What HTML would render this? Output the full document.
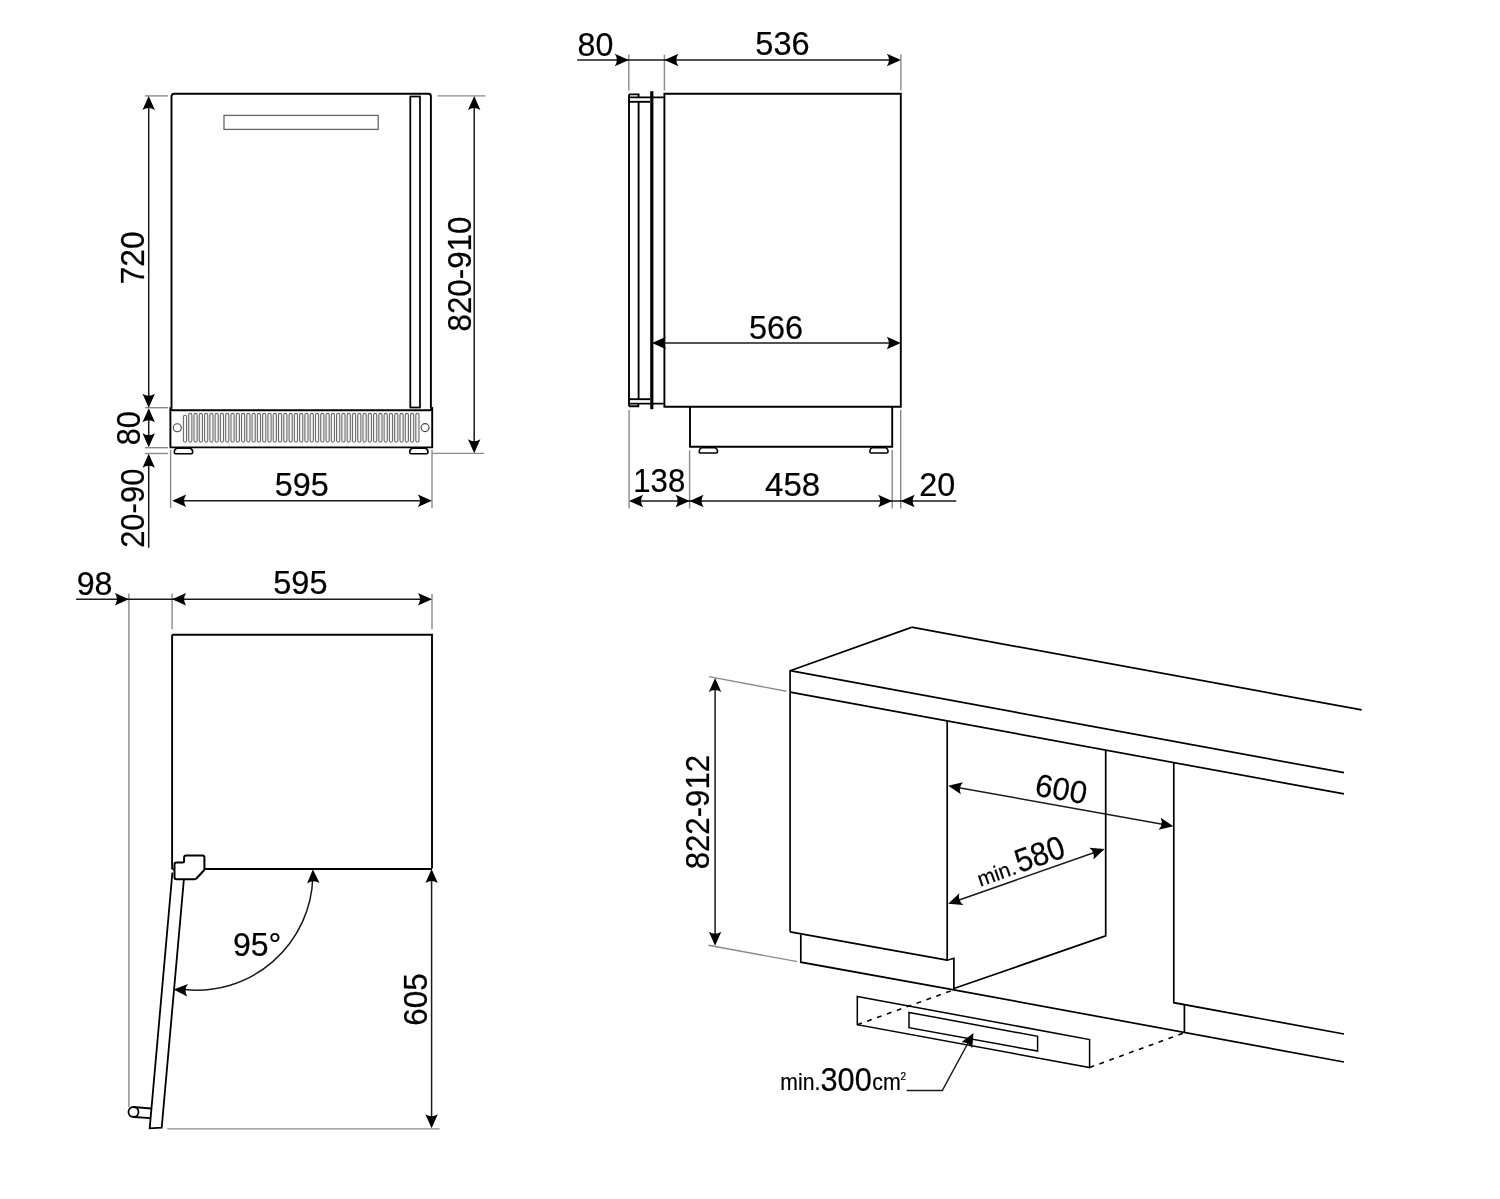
<!DOCTYPE html>
<html><head><meta charset="utf-8"><style>
html,body{margin:0;padding:0;background:#fff;width:1500px;height:1199px;overflow:hidden}
svg{position:absolute;left:0;top:0;display:block;will-change:transform}
text{font-family:"Liberation Sans",sans-serif;fill:#000;stroke:#000;stroke-width:0.22px}
</style></head><body>
<svg width="1500" height="1199" viewBox="0 0 1500 1199">
<path d="M171.5,408.6 V96.2 Q171.7,93.7 174.2,93.7 H428.4 Q430.9,93.7 430.9,96.2 V408.4" stroke="#000" stroke-width="1.9" fill="none"/>
<path d="M170.4,447.4 V408.6 L172.6,410.2 H429.9 L432.2,408.4 V447.4 Z" stroke="#000" stroke-width="1.9" fill="none"/>
<rect x="224" y="115.4" width="154.2" height="14" stroke="#666" stroke-width="1.3" fill="none"/>
<rect x="410.3" y="96.5" width="9.7" height="311" stroke="#000" stroke-width="1.75" fill="none"/>
<circle cx="177.3" cy="427.7" r="4" stroke="#444" stroke-width="1.1" fill="none"/>
<circle cx="425.1" cy="427.6" r="4" stroke="#444" stroke-width="1.1" fill="none"/>
<rect x="183.40" y="415.3" width="3.2" height="26.9" rx="1.6" stroke="#6a6a6a" stroke-width="1.1" fill="#f4f4f4"/>
<rect x="188.68" y="413.4" width="3.2" height="28.8" rx="1.6" stroke="#6a6a6a" stroke-width="1.1" fill="#f4f4f4"/>
<rect x="193.96" y="413.4" width="3.2" height="28.8" rx="1.6" stroke="#6a6a6a" stroke-width="1.1" fill="#f4f4f4"/>
<rect x="199.25" y="413.4" width="3.2" height="28.8" rx="1.6" stroke="#6a6a6a" stroke-width="1.1" fill="#f4f4f4"/>
<rect x="204.53" y="413.4" width="3.2" height="28.8" rx="1.6" stroke="#6a6a6a" stroke-width="1.1" fill="#f4f4f4"/>
<rect x="209.81" y="413.4" width="3.2" height="28.8" rx="1.6" stroke="#6a6a6a" stroke-width="1.1" fill="#f4f4f4"/>
<rect x="215.09" y="413.4" width="3.2" height="28.8" rx="1.6" stroke="#6a6a6a" stroke-width="1.1" fill="#f4f4f4"/>
<rect x="220.37" y="413.4" width="3.2" height="28.8" rx="1.6" stroke="#6a6a6a" stroke-width="1.1" fill="#f4f4f4"/>
<rect x="225.65" y="413.4" width="3.2" height="28.8" rx="1.6" stroke="#6a6a6a" stroke-width="1.1" fill="#f4f4f4"/>
<rect x="230.94" y="413.4" width="3.2" height="28.8" rx="1.6" stroke="#6a6a6a" stroke-width="1.1" fill="#f4f4f4"/>
<rect x="236.22" y="413.4" width="3.2" height="28.8" rx="1.6" stroke="#6a6a6a" stroke-width="1.1" fill="#f4f4f4"/>
<rect x="241.50" y="413.4" width="3.2" height="28.8" rx="1.6" stroke="#6a6a6a" stroke-width="1.1" fill="#f4f4f4"/>
<rect x="246.78" y="413.4" width="3.2" height="28.8" rx="1.6" stroke="#6a6a6a" stroke-width="1.1" fill="#f4f4f4"/>
<rect x="252.06" y="413.4" width="3.2" height="28.8" rx="1.6" stroke="#6a6a6a" stroke-width="1.1" fill="#f4f4f4"/>
<rect x="257.35" y="413.4" width="3.2" height="28.8" rx="1.6" stroke="#6a6a6a" stroke-width="1.1" fill="#f4f4f4"/>
<rect x="262.63" y="413.4" width="3.2" height="28.8" rx="1.6" stroke="#6a6a6a" stroke-width="1.1" fill="#f4f4f4"/>
<rect x="267.91" y="413.4" width="3.2" height="28.8" rx="1.6" stroke="#6a6a6a" stroke-width="1.1" fill="#f4f4f4"/>
<rect x="273.19" y="413.4" width="3.2" height="28.8" rx="1.6" stroke="#6a6a6a" stroke-width="1.1" fill="#f4f4f4"/>
<rect x="278.47" y="413.4" width="3.2" height="28.8" rx="1.6" stroke="#6a6a6a" stroke-width="1.1" fill="#f4f4f4"/>
<rect x="283.75" y="413.4" width="3.2" height="28.8" rx="1.6" stroke="#6a6a6a" stroke-width="1.1" fill="#f4f4f4"/>
<rect x="289.04" y="413.4" width="3.2" height="28.8" rx="1.6" stroke="#6a6a6a" stroke-width="1.1" fill="#f4f4f4"/>
<rect x="294.32" y="413.4" width="3.2" height="28.8" rx="1.6" stroke="#6a6a6a" stroke-width="1.1" fill="#f4f4f4"/>
<rect x="299.60" y="413.4" width="3.2" height="28.8" rx="1.6" stroke="#6a6a6a" stroke-width="1.1" fill="#f4f4f4"/>
<rect x="304.88" y="413.4" width="3.2" height="28.8" rx="1.6" stroke="#6a6a6a" stroke-width="1.1" fill="#f4f4f4"/>
<rect x="310.16" y="413.4" width="3.2" height="28.8" rx="1.6" stroke="#6a6a6a" stroke-width="1.1" fill="#f4f4f4"/>
<rect x="315.45" y="413.4" width="3.2" height="28.8" rx="1.6" stroke="#6a6a6a" stroke-width="1.1" fill="#f4f4f4"/>
<rect x="320.73" y="413.4" width="3.2" height="28.8" rx="1.6" stroke="#6a6a6a" stroke-width="1.1" fill="#f4f4f4"/>
<rect x="326.01" y="413.4" width="3.2" height="28.8" rx="1.6" stroke="#6a6a6a" stroke-width="1.1" fill="#f4f4f4"/>
<rect x="331.29" y="413.4" width="3.2" height="28.8" rx="1.6" stroke="#6a6a6a" stroke-width="1.1" fill="#f4f4f4"/>
<rect x="336.57" y="413.4" width="3.2" height="28.8" rx="1.6" stroke="#6a6a6a" stroke-width="1.1" fill="#f4f4f4"/>
<rect x="341.85" y="413.4" width="3.2" height="28.8" rx="1.6" stroke="#6a6a6a" stroke-width="1.1" fill="#f4f4f4"/>
<rect x="347.14" y="413.4" width="3.2" height="28.8" rx="1.6" stroke="#6a6a6a" stroke-width="1.1" fill="#f4f4f4"/>
<rect x="352.42" y="413.4" width="3.2" height="28.8" rx="1.6" stroke="#6a6a6a" stroke-width="1.1" fill="#f4f4f4"/>
<rect x="357.70" y="413.4" width="3.2" height="28.8" rx="1.6" stroke="#6a6a6a" stroke-width="1.1" fill="#f4f4f4"/>
<rect x="362.98" y="413.4" width="3.2" height="28.8" rx="1.6" stroke="#6a6a6a" stroke-width="1.1" fill="#f4f4f4"/>
<rect x="368.26" y="413.4" width="3.2" height="28.8" rx="1.6" stroke="#6a6a6a" stroke-width="1.1" fill="#f4f4f4"/>
<rect x="373.55" y="413.4" width="3.2" height="28.8" rx="1.6" stroke="#6a6a6a" stroke-width="1.1" fill="#f4f4f4"/>
<rect x="378.83" y="413.4" width="3.2" height="28.8" rx="1.6" stroke="#6a6a6a" stroke-width="1.1" fill="#f4f4f4"/>
<rect x="384.11" y="413.4" width="3.2" height="28.8" rx="1.6" stroke="#6a6a6a" stroke-width="1.1" fill="#f4f4f4"/>
<rect x="389.39" y="413.4" width="3.2" height="28.8" rx="1.6" stroke="#6a6a6a" stroke-width="1.1" fill="#f4f4f4"/>
<rect x="394.67" y="413.4" width="3.2" height="28.8" rx="1.6" stroke="#6a6a6a" stroke-width="1.1" fill="#f4f4f4"/>
<rect x="399.95" y="413.4" width="3.2" height="28.8" rx="1.6" stroke="#6a6a6a" stroke-width="1.1" fill="#f4f4f4"/>
<rect x="405.24" y="413.4" width="3.2" height="28.8" rx="1.6" stroke="#6a6a6a" stroke-width="1.1" fill="#f4f4f4"/>
<rect x="410.52" y="413.4" width="3.2" height="28.8" rx="1.6" stroke="#6a6a6a" stroke-width="1.1" fill="#f4f4f4"/>
<rect x="415.80" y="413.4" width="3.2" height="28.8" rx="1.6" stroke="#6a6a6a" stroke-width="1.1" fill="#f4f4f4"/>
<path d="M176.8,448.3 H190.2 Q192.7,449.5 192.7,452 Q192.7,453.7 191.2,453.7 H175.8 Q174.3,453.7 174.3,452 Q174.3,449.5 176.8,448.3 Z" stroke="#000" stroke-width="1.6" fill="none"/>
<path d="M412.2,448.3 H425.5 Q428,449.5 428,452 Q428,453.7 426.5,453.7 H411.2 Q409.7,453.7 409.7,452 Q409.7,449.5 412.2,448.3 Z" stroke="#000" stroke-width="1.6" fill="none"/>
<line x1="145.00" y1="95.90" x2="168.00" y2="95.90" stroke="#8a8a8a" stroke-width="1.4" fill="none"/>
<line x1="145.00" y1="407.70" x2="168.00" y2="407.70" stroke="#8a8a8a" stroke-width="1.4" fill="none"/>
<line x1="145.00" y1="447.70" x2="168.00" y2="447.70" stroke="#8a8a8a" stroke-width="1.4" fill="none"/>
<line x1="145.00" y1="453.50" x2="168.00" y2="453.50" stroke="#8a8a8a" stroke-width="1.4" fill="none"/>
<line x1="148.70" y1="100.00" x2="148.70" y2="404.00" stroke="#1a1a1a" stroke-width="1.5" fill="none"/>
<path d="M148.70,96.00 L154.90,110.00 Q148.70,105.86 142.50,110.00 Z" fill="#000"/>
<path d="M148.70,407.80 L142.50,393.80 Q148.70,397.94 154.90,393.80 Z" fill="#000"/>
<line x1="148.70" y1="410.00" x2="148.70" y2="444.00" stroke="#1a1a1a" stroke-width="1.5" fill="none"/>
<path d="M148.70,408.30 L154.90,422.30 Q148.70,418.16 142.50,422.30 Z" fill="#000"/>
<path d="M148.70,447.20 L142.50,433.20 Q148.70,437.34 154.90,433.20 Z" fill="#000"/>
<line x1="148.70" y1="456.00" x2="148.70" y2="547.70" stroke="#1a1a1a" stroke-width="1.5" fill="none"/>
<path d="M148.70,453.80 L154.90,467.80 Q148.70,463.66 142.50,467.80 Z" fill="#000"/>
<line x1="437.60" y1="95.90" x2="485.60" y2="95.90" stroke="#8a8a8a" stroke-width="1.4" fill="none"/>
<line x1="432.00" y1="453.40" x2="484.00" y2="453.40" stroke="#8a8a8a" stroke-width="1.4" fill="none"/>
<line x1="474.20" y1="100.00" x2="474.20" y2="450.00" stroke="#1a1a1a" stroke-width="1.5" fill="none"/>
<path d="M474.20,96.00 L480.40,110.00 Q474.20,105.86 468.00,110.00 Z" fill="#000"/>
<path d="M474.20,453.20 L468.00,439.20 Q474.20,443.34 480.40,439.20 Z" fill="#000"/>
<line x1="170.60" y1="450.00" x2="170.60" y2="508.00" stroke="#8a8a8a" stroke-width="1.4" fill="none"/>
<line x1="432.00" y1="450.00" x2="432.00" y2="508.00" stroke="#8a8a8a" stroke-width="1.4" fill="none"/>
<line x1="175.00" y1="500.80" x2="429.00" y2="500.80" stroke="#1a1a1a" stroke-width="1.5" fill="none"/>
<path d="M172.20,500.80 L186.20,494.60 Q182.06,500.80 186.20,507.00 Z" fill="#000"/>
<path d="M431.90,500.80 L417.90,507.00 Q422.04,500.80 417.90,494.60 Z" fill="#000"/>
<text transform="translate(144.20,257.90) rotate(-90) scale(0.962,1)" font-size="33" text-anchor="middle" >720</text>
<text transform="translate(140.00,428.15) rotate(-90) scale(0.932,1)" font-size="33" text-anchor="middle" >80</text>
<text transform="translate(144.00,508.25) rotate(-90) scale(0.939,1)" font-size="33" text-anchor="middle" >20-90</text>
<text transform="translate(470.60,274.05) rotate(-90) scale(0.950,1)" font-size="33" text-anchor="middle" >820-910</text>
<text transform="translate(301.70,496.00) scale(0.981,1)" font-size="33" text-anchor="middle" >595</text>
<path d="M664.4,93.7 H900.8 V406.8 H664.4 Z" stroke="#000" stroke-width="1.9" fill="none"/>
<path d="M690,406.8 V446.7 H892.2 V406.8" stroke="#000" stroke-width="1.9" fill="none"/>
<path d="M701.7,447.6 H715.0 Q717.5,448.8 717.5,451.2 Q717.5,453 716.0,453 H700.7 Q699.2,453 699.2,451.2 Q699.2,448.8 701.7,447.6 Z" stroke="#000" stroke-width="1.6" fill="none"/>
<path d="M872.3,447.6 H885.6 Q888.1,448.8 888.1,451.2 Q888.1,453 886.6,453 H871.3 Q869.8,453 869.8,451.2 Q869.8,448.8 872.3,447.6 Z" stroke="#000" stroke-width="1.6" fill="none"/>
<path d="M629,94.4 V406.3" stroke="#000" stroke-width="1.9" fill="none"/>
<path d="M629,94.4 H638.6 V97.4" stroke="#000" stroke-width="1.9" fill="none"/>
<path d="M629,97.4 H664.4" stroke="#000" stroke-width="1.9" fill="none"/>
<path d="M629,101.8 H650" stroke="#000" stroke-width="1.9" fill="none"/>
<path d="M638.6,101.8 V399.2" stroke="#000" stroke-width="1.9" fill="none"/>
<path d="M629,399.2 H650" stroke="#000" stroke-width="1.9" fill="none"/>
<path d="M629,403.6 H664.4" stroke="#000" stroke-width="1.9" fill="none"/>
<path d="M629,406.3 H638.3 V403.6" stroke="#000" stroke-width="1.9" fill="none"/>
<rect x="650.2" y="91.2" width="3.2" height="318" fill="#000"/>
<line x1="628.80" y1="54.60" x2="628.80" y2="90.60" stroke="#8a8a8a" stroke-width="1.4" fill="none"/>
<line x1="664.40" y1="54.60" x2="664.40" y2="90.60" stroke="#8a8a8a" stroke-width="1.4" fill="none"/>
<line x1="900.90" y1="54.40" x2="900.90" y2="90.40" stroke="#8a8a8a" stroke-width="1.4" fill="none"/>
<line x1="577.20" y1="60.00" x2="898.00" y2="60.00" stroke="#1a1a1a" stroke-width="1.5" fill="none"/>
<path d="M628.80,60.00 L614.80,66.20 Q618.94,60.00 614.80,53.80 Z" fill="#000"/>
<path d="M664.40,60.00 L678.40,53.80 Q674.26,60.00 678.40,66.20 Z" fill="#000"/>
<path d="M900.90,60.00 L886.90,66.20 Q891.04,60.00 886.90,53.80 Z" fill="#000"/>
<text transform="translate(595.40,55.80) scale(0.976,1)" font-size="33" text-anchor="middle" >80</text>
<text transform="translate(782.50,55.00) scale(0.988,1)" font-size="33" text-anchor="middle" >536</text>
<line x1="656.00" y1="343.00" x2="897.00" y2="343.00" stroke="#1a1a1a" stroke-width="1.5" fill="none"/>
<path d="M652.00,343.00 L666.00,336.80 Q661.86,343.00 666.00,349.20 Z" fill="#000"/>
<path d="M900.80,343.00 L886.80,349.20 Q890.94,343.00 886.80,336.80 Z" fill="#000"/>
<text transform="translate(775.95,339.00) scale(0.983,1)" font-size="33" text-anchor="middle" >566</text>
<line x1="629.10" y1="410.00" x2="629.10" y2="508.50" stroke="#8a8a8a" stroke-width="1.4" fill="none"/>
<line x1="689.60" y1="450.40" x2="689.60" y2="508.50" stroke="#8a8a8a" stroke-width="1.4" fill="none"/>
<line x1="892.20" y1="450.00" x2="892.20" y2="508.50" stroke="#8a8a8a" stroke-width="1.4" fill="none"/>
<line x1="900.70" y1="409.80" x2="900.70" y2="508.50" stroke="#8a8a8a" stroke-width="1.4" fill="none"/>
<line x1="632.00" y1="501.00" x2="956.20" y2="501.00" stroke="#1a1a1a" stroke-width="1.5" fill="none"/>
<path d="M629.10,501.00 L643.10,494.80 Q638.96,501.00 643.10,507.20 Z" fill="#000"/>
<path d="M689.60,501.00 L675.60,507.20 Q679.74,501.00 675.60,494.80 Z" fill="#000"/>
<path d="M689.60,501.00 L703.60,494.80 Q699.46,501.00 703.60,507.20 Z" fill="#000"/>
<path d="M892.20,501.00 L878.20,507.20 Q882.34,501.00 878.20,494.80 Z" fill="#000"/>
<path d="M900.70,501.00 L914.70,494.80 Q910.56,501.00 914.70,507.20 Z" fill="#000"/>
<text transform="translate(659.25,491.70) scale(0.944,1)" font-size="33" text-anchor="middle" >138</text>
<text transform="translate(792.65,496.00) scale(1.002,1)" font-size="33" text-anchor="middle" >458</text>
<text transform="translate(937.25,496.20) scale(0.979,1)" font-size="33" text-anchor="middle" >20</text>
<path d="M172.1,634.7 H432 V868.6" stroke="#000" stroke-width="1.9" fill="none"/>
<path d="M172.1,634.7 V868.5 L174.5,870" stroke="#000" stroke-width="1.9" fill="none"/>
<path d="M204.4,869 H432" stroke="#000" stroke-width="1.9" fill="none"/>
<path d="M174.5,864.5 Q174.5,862.5 176.5,862.5 H182.6 Q184.1,862.5 184.1,861 V857.5 Q184.1,855.5 186.1,855.5 H202.4 Q204.4,855.5 204.4,857.5 V868.9 Q204.4,869.9 203.6,870.7 L196.6,878.2 Q195.9,879.2 194.6,879.2 H176.5 Q174.5,879.2 174.5,877.2 Z" stroke="#000" stroke-width="2" fill="none"/>
<path d="M172.4,872.5 L149.7,1128.3 L161.7,1127.7 L183.9,879.2" stroke="#000" stroke-width="1.8" fill="none" stroke-linejoin="miter"/>
<circle cx="133.5" cy="1112" r="5" stroke="#000" stroke-width="1.8" fill="none"/>
<line x1="133.50" y1="1107.00" x2="151.10" y2="1108.50" stroke="#000" stroke-width="1.8"/>
<line x1="134.00" y1="1117.00" x2="150.30" y2="1118.10" stroke="#000" stroke-width="1.8"/>
<line x1="128.90" y1="593.40" x2="128.90" y2="1107.00" stroke="#8a8a8a" stroke-width="1.4" fill="none"/>
<line x1="172.10" y1="593.40" x2="172.10" y2="629.30" stroke="#8a8a8a" stroke-width="1.4" fill="none"/>
<line x1="432.00" y1="594.00" x2="432.00" y2="629.30" stroke="#8a8a8a" stroke-width="1.4" fill="none"/>
<line x1="76.10" y1="599.20" x2="429.00" y2="599.20" stroke="#1a1a1a" stroke-width="1.5" fill="none"/>
<path d="M128.90,599.20 L114.90,605.40 Q119.04,599.20 114.90,593.00 Z" fill="#000"/>
<path d="M172.10,599.20 L186.10,593.00 Q181.96,599.20 186.10,605.40 Z" fill="#000"/>
<path d="M432.00,599.20 L418.00,605.40 Q422.14,599.20 418.00,593.00 Z" fill="#000"/>
<text transform="translate(94.60,594.70) scale(0.976,1)" font-size="33" text-anchor="middle" >98</text>
<text transform="translate(300.35,594.40) scale(0.987,1)" font-size="33" text-anchor="middle" >595</text>
<line x1="431.60" y1="872.00" x2="431.60" y2="1125.00" stroke="#1a1a1a" stroke-width="1.5" fill="none"/>
<path d="M431.60,869.00 L437.80,883.00 Q431.60,878.86 425.40,883.00 Z" fill="#000"/>
<path d="M431.60,1128.30 L425.40,1114.30 Q431.60,1118.44 437.80,1114.30 Z" fill="#000"/>
<line x1="167.30" y1="1128.90" x2="439.60" y2="1128.90" stroke="#8a8a8a" stroke-width="1.4" fill="none"/>
<text transform="translate(426.80,999.50) rotate(-90) scale(0.954,1)" font-size="33" text-anchor="middle" >605</text>
<path d="M312.83,877.67 A116.6,116.6 0 0 1 184.11,989.56" stroke="#1a1a1a" stroke-width="1.5" fill="none"/>
<path d="M312.82,869.33 L319.53,883.09 Q313.18,879.18 307.14,883.55 Z" fill="#000"/>
<path d="M173.60,989.40 L187.95,984.05 Q183.44,989.99 187.20,996.43 Z" fill="#000"/>
<text transform="translate(257.15,956.10) scale(0.972,1)" font-size="33" text-anchor="middle" >95°</text>
<line x1="790.10" y1="670.70" x2="911.50" y2="627.40" stroke="#000" stroke-width="1.7" fill="none"/>
<line x1="911.50" y1="627.20" x2="1361.70" y2="709.90" stroke="#000" stroke-width="1.7" fill="none"/>
<line x1="790.10" y1="670.70" x2="1344.00" y2="772.70" stroke="#000" stroke-width="1.7" fill="none"/>
<line x1="790.10" y1="692.10" x2="1344.00" y2="793.90" stroke="#000" stroke-width="1.7" fill="none"/>
<line x1="790.10" y1="669.90" x2="790.10" y2="931.80" stroke="#000" stroke-width="1.7" fill="none"/>
<line x1="790.10" y1="931.80" x2="947.20" y2="960.20" stroke="#000" stroke-width="1.7" fill="none"/>
<path d="M800.8,934.7 V962.2 L953.9,989.8" stroke="#000" stroke-width="1.7" fill="none"/>
<path d="M947.2,721 V960.2 L953.9,958.3 V989.8" stroke="#000" stroke-width="1.7" fill="none"/>
<path d="M1105.7,750.3 V935.9 L953.9,988.5" stroke="#000" stroke-width="1.7" fill="none"/>
<path d="M1173.8,762.8 V1002.7 L1344,1034" stroke="#000" stroke-width="1.7" fill="none"/>
<line x1="1184.40" y1="1004.70" x2="1184.40" y2="1032.70" stroke="#000" stroke-width="1.7" fill="none"/>
<line x1="953.90" y1="989.80" x2="1344.00" y2="1062.00" stroke="#000" stroke-width="1.7" fill="none"/>
<path d="M857.3,996.5 L1089.6,1039.5 V1067.5 L857.3,1024.7 Z" stroke="#000" stroke-width="1.5" fill="none"/>
<path d="M909,1012.4 L1037.6,1036.3 V1051.1 L909,1027.7 Z" stroke="#000" stroke-width="1.5" fill="none"/>
<line x1="857.30" y1="1024.70" x2="953.90" y2="989.80" stroke="#000" stroke-width="1.6" stroke-dasharray="4.8,5.7"/>
<line x1="1089.60" y1="1067.50" x2="1184.40" y2="1032.70" stroke="#000" stroke-width="1.6" stroke-dasharray="4.8,5.7"/>
<line x1="708.90" y1="676.60" x2="786.40" y2="691.20" stroke="#8a8a8a" stroke-width="1.4" fill="none"/>
<line x1="708.40" y1="945.20" x2="797.30" y2="961.60" stroke="#8a8a8a" stroke-width="1.4" fill="none"/>
<line x1="715.10" y1="682.00" x2="715.10" y2="942.00" stroke="#1a1a1a" stroke-width="1.5" fill="none"/>
<path d="M715.10,678.10 L721.30,692.10 Q715.10,687.96 708.90,692.10 Z" fill="#000"/>
<path d="M715.10,945.70 L708.90,931.70 Q715.10,935.84 721.30,931.70 Z" fill="#000"/>
<text transform="translate(708.50,812.10) rotate(-90) scale(0.946,1)" font-size="33" text-anchor="middle" >822-912</text>
<line x1="952.00" y1="786.50" x2="1169.50" y2="825.50" stroke="#1a1a1a" stroke-width="1.5" fill="none"/>
<path d="M948.20,785.80 L963.07,782.17 Q957.91,787.54 960.89,794.37 Z" fill="#000"/>
<path d="M1173.40,826.20 L1158.53,829.83 Q1163.69,824.46 1160.71,817.63 Z" fill="#000"/>
<text transform="matrix(0.93,0.166,-0.17,0.95,1059.4,799.8)" font-size="33" text-anchor="middle">600</text>
<line x1="952.00" y1="902.50" x2="1100.80" y2="850.30" stroke="#1a1a1a" stroke-width="1.5" fill="none"/>
<path d="M948.20,903.80 L959.36,893.32 Q957.51,900.54 963.46,905.02 Z" fill="#000"/>
<path d="M1104.60,849.00 L1093.44,859.48 Q1095.29,852.26 1089.34,847.78 Z" fill="#000"/>
<path d="M971,1037.5 L942.3,1090.5 H906.7" stroke="#1a1a1a" stroke-width="1.5" fill="none"/>
<path d="M973.50,1032.90 L972.24,1048.16 Q968.78,1041.56 961.35,1042.22 Z" fill="#000"/>
<g transform="translate(948.2,903.2) rotate(-19.3)">
<text x="55.5" y="-5" font-size="21" text-anchor="middle">min.</text>
<text transform="translate(102.5,-4.9) scale(0.92,1)" font-size="33" text-anchor="middle">580</text>
</g>
<text transform="translate(800.30,1090.30) scale(0.920,1)" font-size="23" text-anchor="middle" >min.</text>
<text transform="translate(846.10,1090.70) scale(0.932,1)" font-size="33" text-anchor="middle" >300</text>
<text transform="translate(886.55,1090.30) scale(0.910,1)" font-size="23.5" text-anchor="middle" >cm</text>
<text transform="translate(903.35,1080.10)" font-size="10" text-anchor="middle" >2</text>
</svg>
</body></html>
